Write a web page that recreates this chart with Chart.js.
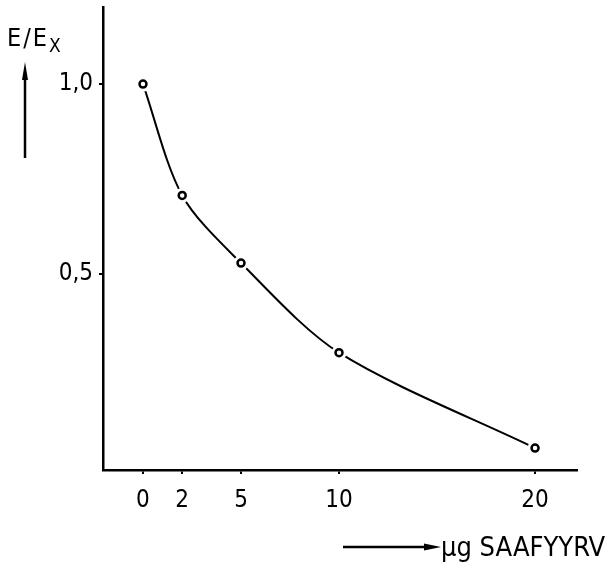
<!DOCTYPE html>
<html>
<head>
<meta charset="utf-8">
<script src="https://cdn.jsdelivr.net/npm/chart.js@4/dist/chart.umd.min.js"></script>
<style>
  html, body { margin: 0; padding: 0; background: #fff; }
  #wrap { position: relative; width: 607px; height: 563px; }
  canvas { display: block; }
  .lbl {
    position: absolute;
    font-family: "DejaVu Sans Condensed", "Liberation Sans Narrow", "DejaVu Sans", sans-serif;
    color: #000;
    white-space: nowrap;
    line-height: 1;
  }
  #ylabel { left: 7px; top: 25px; font-size: 25px; letter-spacing: 2px; }
  #ylabel sub { font-size: 19px; vertical-align: -6px; letter-spacing: 0; }
  #xlabel { left: 441px; top: 533px; font-size: 27px; }
</style>
</head>
<body>
<div id="wrap">
  <canvas id="chart-ex" width="607" height="563"></canvas>
  <div class="lbl" id="ylabel">E/E<sub>X</sub></div>
  <div class="lbl" id="xlabel">µg SAAFYYRV</div>
</div>
<script>
const doses = [0, 2, 5, 10, 20];
const ratios = [1.0, 0.707, 0.529, 0.293, 0.042];
const xTicks = [0, 2, 5, 10, 20];
const yTicks = [0.5, 1.0];

const FONT = '"DejaVu Sans Condensed", "Liberation Sans Narrow", "DejaVu Sans", sans-serif';
const points = doses.map((x, i) => ({ x: x, y: ratios[i] }));

// pfeile neben den achsentiteln
const arrows = {
  id: "arrows",
  afterDraw(chart) {
    const ctx = chart.ctx;
    ctx.save();
    ctx.strokeStyle = "#000";
    ctx.fillStyle = "#000";
    ctx.lineWidth = 2.5;
    // y pfeil
    ctx.beginPath();
    ctx.moveTo(25, 158);
    ctx.lineTo(25, 76);
    ctx.stroke();
    ctx.beginPath();
    ctx.moveTo(25, 62);
    ctx.lineTo(28, 80);
    ctx.lineTo(22, 80);
    ctx.closePath();
    ctx.fill();
    // x pfeil
    ctx.beginPath();
    ctx.moveTo(343, 547);
    ctx.lineTo(428, 547);
    ctx.stroke();
    ctx.beginPath();
    ctx.moveTo(441, 547);
    ctx.lineTo(424, 543.5);
    ctx.lineTo(424, 550.5);
    ctx.closePath();
    ctx.fill();
    ctx.restore();
  },
};

new Chart(document.getElementById("chart-ex").getContext("2d"), {
  type: "scatter",
  data: {
    datasets: [
      {
        data: points,
        showLine: true,
        borderColor: "#000",
        borderWidth: 2,
        pointRadius: 0,
        tension: 0.3,
        order: 3,
      },
      {
        // weisse luecke um die kreise
        data: points,
        showLine: false,
        pointRadius: 7.5,
        pointBorderWidth: 0,
        pointBackgroundColor: "#fff",
        pointBorderColor: "#fff",
        order: 2,
      },
      {
        data: points,
        showLine: false,
        pointRadius: 3.5,
        pointBorderWidth: 2.5,
        pointBackgroundColor: "#fff",
        pointBorderColor: "#000",
        order: 1,
      },
    ],
  },
  options: {
    responsive: false,
    animation: false,
    layout: { padding: { top: 5, right: 30, left: 0, bottom: 0 } },
    plugins: { legend: { display: false }, tooltip: { enabled: false } },
    scales: {
      x: {
        type: "linear",
        min: -2.04,
        max: 22.14,
        afterBuildTicks: (scale) => { scale.ticks = xTicks.map((v) => ({ value: v })); },
        afterFit: (scale) => {
          scale.height = 93;
          scale.paddingLeft = 0;
          scale.paddingRight = 0;
        },
        ticks: {
          color: "#000",
          font: { family: FONT, size: 24 },
          padding: 12,
          maxRotation: 0,
          autoSkip: false,
          callback: (v) => String(v),
        },
        grid: { display: true, drawOnChartArea: false, drawTicks: true, tickLength: 4, color: "#000", lineWidth: 2 },
        border: { display: true, color: "#000", width: 2.5 },
      },
      y: {
        type: "linear",
        min: -0.0157,
        max: 1.2016,
        afterBuildTicks: (scale) => { scale.ticks = yTicks.map((v) => ({ value: v })); },
        afterFit: (scale) => {
          scale.width = 103;
          scale.paddingTop = 0;
          scale.paddingBottom = 0;
        },
        ticks: {
          color: "#000",
          font: { family: FONT, size: 24 },
          padding: 6,
          autoSkip: false,
          callback: (v) => v.toFixed(1).replace(".", ","),
        },
        grid: { display: true, drawOnChartArea: false, drawTicks: true, tickLength: 4, color: "#000", lineWidth: 2 },
        border: { display: true, color: "#000", width: 2.5 },
      },
    },
  },
  plugins: [arrows],
});
</script>
</body>
</html>
